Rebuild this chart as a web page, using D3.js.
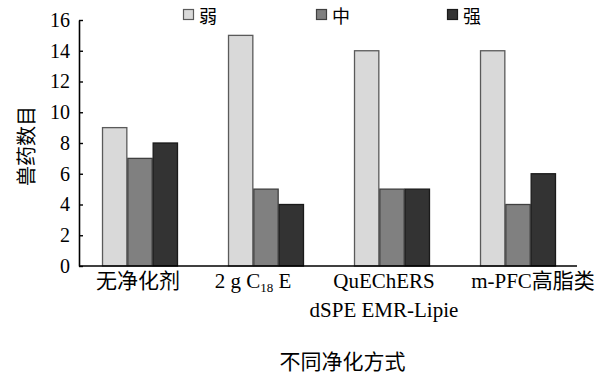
<!DOCTYPE html>
<html>
<head>
<meta charset="utf-8">
<script src="https://cdn.jsdelivr.net/npm/d3@7/dist/d3.min.js"></script>
<style>
  html, body { margin: 0; padding: 0; background: #fff; }
  svg { display: block; }
</style>
</head>
<body>
<svg id="chart" width="604" height="374"></svg>
<script>
// Purification methods and number of veterinary drugs per matrix-effect level
const categories = ["无净化剂", "2 g C18 E", "QuEChERS dSPE EMR-Lipie", "m-PFC高脂类"];
const seriesNames = ["弱", "中", "强"];
const weak   = [9, 15, 14, 14];
const medium = [7, 5, 5, 4];
const strong = [8, 4, 5, 6];
const yTicks = [0, 2, 4, 6, 8, 10, 12, 14, 16];

const seriesValues = [weak, medium, strong];
const fills   = ["#d9d9d9", "#808080", "#333333"];
const strokes = ["#5a5a5a", "#404040", "#1a1a1a"];

const svg = d3.select("#chart");
const plotLeft = 79, plotRight = 577, plotTop = 20, plotBottom = 266;
const serif = "'Liberation Serif', 'Times New Roman', 'Noto Sans CJK SC', serif";
const cjk = "'Noto Sans CJK SC', sans-serif";

const y = d3.scaleLinear().domain([0, 16]).range([plotBottom, plotTop]);
const x0 = d3.scaleBand().domain(categories).range([77, 581])
  .paddingInner(0.397).paddingOuter(0.1985);
const x1 = d3.scaleBand().domain(seriesNames).range([0, x0.bandwidth()]);

// bars
const groups = svg.append("g").selectAll("g")
  .data(categories).join("g")
  .attr("transform", d => `translate(${x0(d)},0)`);

groups.selectAll("rect")
  .data((c, i) => seriesNames.map((s, k) => ({ s, k, v: seriesValues[k][i] })))
  .join("rect")
  .attr("x", d => x1(d.s) + 0.5)
  .attr("y", d => y(d.v))
  .attr("width", x1.bandwidth() - 1)
  .attr("height", d => y(0) - y(d.v))
  .attr("fill", d => fills[d.k])
  .attr("stroke", d => strokes[d.k])
  .attr("stroke-width", 1.3);

// y axis
const yAxis = svg.append("g")
  .attr("transform", `translate(${plotLeft},0)`)
  .call(d3.axisLeft(y).tickValues(yTicks).tickSizeInner(-4).tickSizeOuter(0).tickPadding(9));
yAxis.select(".domain").attr("stroke", "#000").attr("stroke-width", 1.6);
yAxis.selectAll(".tick line").attr("stroke", "#000").attr("stroke-width", 1.4);
yAxis.selectAll(".tick text")
  .attr("font-family", serif).attr("font-size", 20).attr("fill", "#000");

// x axis baseline
svg.append("line")
  .attr("x1", plotLeft).attr("x2", plotRight)
  .attr("y1", y(0)).attr("y2", y(0))
  .attr("stroke", "#000").attr("stroke-width", 1.6);

// category labels
const labelShift = [-2, -13, -8, 15];
const xl = svg.append("g")
  .attr("font-family", serif).attr("font-size", 21).attr("fill", "#000")
  .attr("text-anchor", "middle");

categories.forEach((c, i) => {
  const cx = x0(c) + x0.bandwidth() / 2 + labelShift[i];
  if (c === "2 g C18 E") {
    const t = xl.append("text").attr("x", cx).attr("y", 288);
    t.append("tspan").text("2 g C");
    t.append("tspan").attr("font-size", 13).attr("dy", 4).text("18");
    t.append("tspan").attr("dy", -4).text(" E");
  } else if (c === "QuEChERS dSPE EMR-Lipie") {
    xl.append("text").attr("x", cx).attr("y", 288).text("QuEChERS");
    xl.append("text").attr("x", cx).attr("y", 317).text("dSPE EMR-Lipie");
  } else {
    xl.append("text").attr("x", cx).attr("y", 288).text(c);
  }
});

// axis titles
svg.append("text")
  .attr("x", 342.5).attr("y", 359.5)
  .attr("dominant-baseline", "central")
  .attr("text-anchor", "middle")
  .attr("font-family", cjk).attr("font-size", 21)
  .text("不同净化方式");

svg.append("text")
  .attr("transform", "translate(25,146) rotate(-90)")
  .attr("dominant-baseline", "central")
  .attr("text-anchor", "middle")
  .attr("font-family", cjk).attr("font-size", 20)
  .text("兽药数目");

// legend
const legendX = [183, 316, 447];
const legend = svg.append("g").selectAll("g")
  .data(seriesNames).join("g")
  .attr("transform", (d, i) => `translate(${legendX[i]},9)`);
legend.append("rect")
  .attr("x", 0.5).attr("y", 0.5).attr("width", 10).attr("height", 10)
  .attr("fill", (d, i) => fills[i])
  .attr("stroke", (d, i) => strokes[i]).attr("stroke-width", 1.2);
legend.append("text")
  .attr("x", 16).attr("y", 5.5)
  .attr("dominant-baseline", "central")
  .attr("font-family", cjk).attr("font-size", 18)
  .text(d => d);
</script>
</body>
</html>
